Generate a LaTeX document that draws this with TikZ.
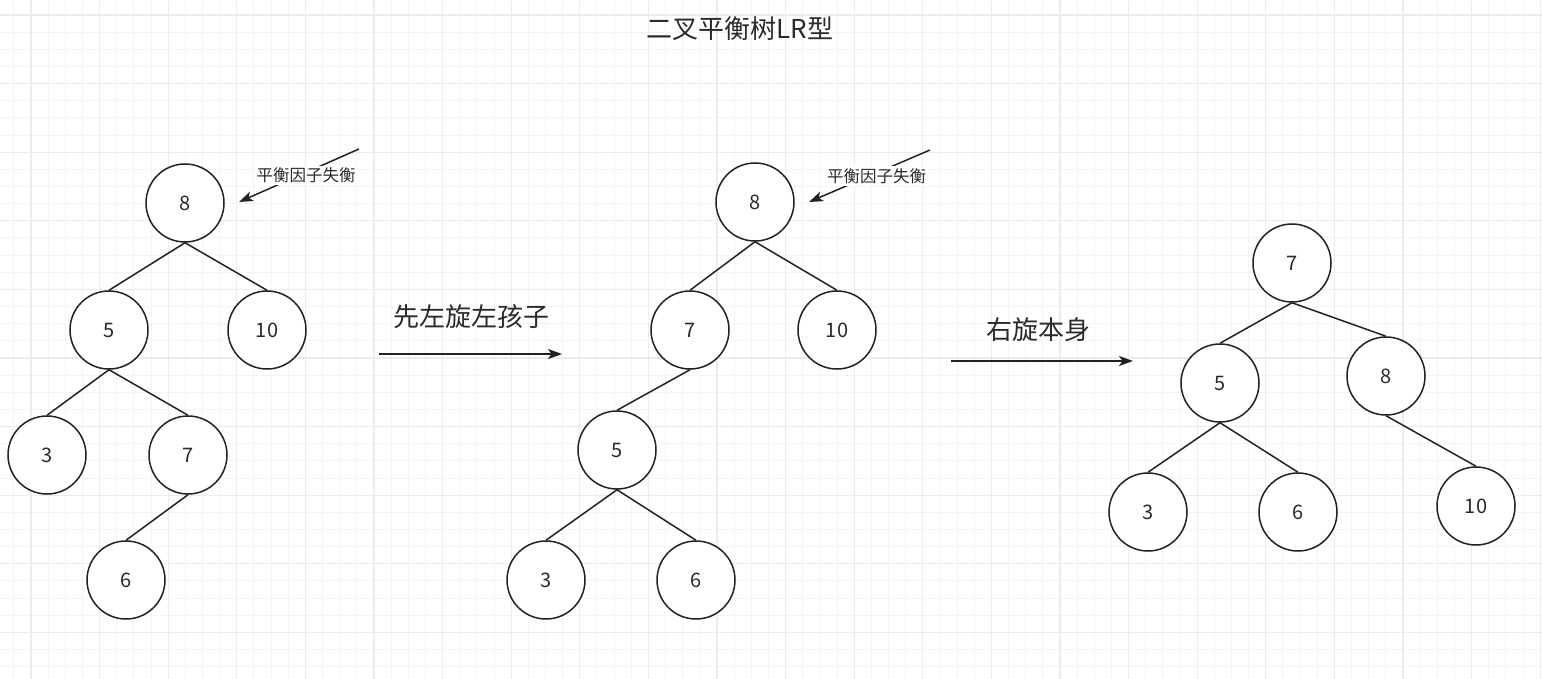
\documentclass[tikz,border=0pt]{standalone}
\usepackage{fontspec}
\setmainfont{Noto Sans CJK SC}
\usetikzlibrary{arrows.meta}
\definecolor{gridminor}{HTML}{F4F4F4}
\definecolor{gridmajor}{HTML}{ECECEC}
\definecolor{ink}{HTML}{222222}
\definecolor{txt}{HTML}{2A2A2A}
\begin{document}
\begin{tikzpicture}[x=1pt,y=-1pt,
  tn/.style={circle,draw=ink,fill=white,line width=1.5pt,minimum size=78pt,inner sep=0pt,
             font=\fontsize{20}{20}\selectfont,text=txt},
  edge/.style={draw=ink,line width=1.5pt},
  tip/.style={-{Stealth[length=14pt,width=10pt,inset=3.5pt]}},
  biglbl/.style={font=\fontsize{26}{26}\selectfont,text=txt,inner sep=0pt},
  smalllbl/.style={font=\fontsize{16.5}{16.5}\selectfont,text=txt,fill=white,inner sep=2pt}]
\useasboundingbox (0,0) rectangle (1542,679);
\fill[white] (0,0) rectangle (1542,679);
\begin{scope}
\clip (0,0) rectangle (1542,679);
\foreach \i in {0,...,90} {\draw[gridminor,line width=1pt] ({13.85+\i*17.15},0) -- ++(0,679);}
\foreach \i in {0,...,40} {\draw[gridminor,line width=1pt] (0,{-2.15+\i*17.15}) -- ++(1542,0);}
\foreach \i in {0,...,22} {\draw[gridmajor,line width=1.3pt] ({31+\i*68.6},0) -- ++(0,679);}
\foreach \i in {0,...,10} {\draw[gridmajor,line width=1.3pt] (0,{15+\i*68.6}) -- ++(1542,0);}
\end{scope}

% title
\node[biglbl] (title) at (740,29) {二叉平衡树LR型};

% tree 1
\node[tn] (a8) at (185,203) {8};
\node[tn] (a5) at (109,330) {5};
\node[tn] (a10) at (267,330) {10};
\node[tn] (a3) at (47,455) {3};
\node[tn] (a7) at (188,455) {7};
\node[tn] (a6) at (126,580) {6};
\draw[edge] (a8.south) -- (a5.north);
\draw[edge] (a8.south) -- (a10.north);
\draw[edge] (a5.south) -- (a3.north);
\draw[edge] (a5.south) -- (a7.north);
\draw[edge] (a7.south) -- (a6.north);
\coordinate (s1) at (359,149);
\coordinate (e1) at (239,202);
\draw[edge,tip] (s1) -- node[smalllbl,xshift=7pt] (l1) {平衡因子失衡} (e1);

% arrow 1
\coordinate (r1s) at (379,354);
\coordinate (r1e) at (562,354);
\draw[edge,tip] (r1s) -- (r1e);
\node[biglbl] (t1) at (471,317) {先左旋左孩子};

% tree 2
\node[tn] (b8) at (755,202) {8};
\node[tn] (b7) at (690,330) {7};
\node[tn] (b10) at (837,330) {10};
\node[tn] (b5) at (617,450) {5};
\node[tn] (b3) at (546,580) {3};
\node[tn] (b6) at (696,580) {6};
\draw[edge] (b8.south) -- (b7.north);
\draw[edge] (b8.south) -- (b10.north);
\draw[edge] (b7.south) -- (b5.north);
\draw[edge] (b5.south) -- (b3.north);
\draw[edge] (b5.south) -- (b6.north);
\coordinate (s2) at (930,150);
\coordinate (e2) at (809,202);
\draw[edge,tip] (s2) -- node[smalllbl,xshift=7pt] (l2) {平衡因子失衡} (e2);

% arrow 2
\coordinate (r2s) at (951,361);
\coordinate (r2e) at (1133,361);
\draw[edge,tip] (r2s) -- (r2e);
\node[biglbl] (t2) at (1038,330) {右旋本身};

% tree 3
\node[tn] (c7) at (1292,263) {7};
\node[tn] (c5) at (1220,383) {5};
\node[tn] (c8) at (1386,376) {8};
\node[tn] (c3) at (1148,512) {3};
\node[tn] (c6) at (1298,512) {6};
\node[tn] (c10) at (1476,506) {10};
\draw[edge] (c7.south) -- (c5.north);
\draw[edge] (c7.south) -- (c8.north);
\draw[edge] (c5.south) -- (c3.north);
\draw[edge] (c5.south) -- (c6.north);
\draw[edge] (c8.south) -- (c10.north);
\end{tikzpicture}
\end{document}
